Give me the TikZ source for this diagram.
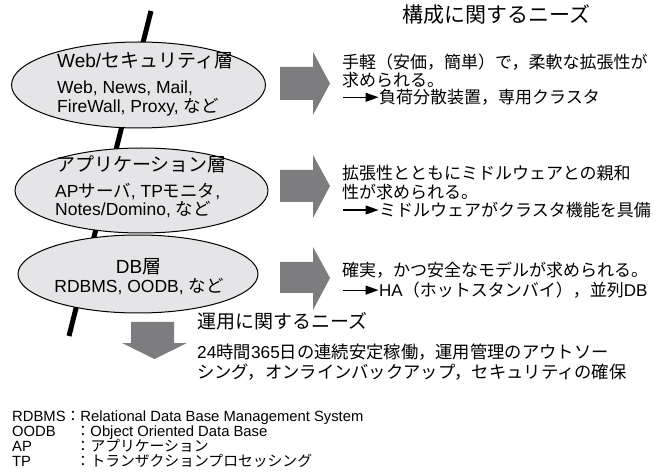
\documentclass[tikz,border=0pt]{standalone}
\usepackage{fontspec}
\setmainfont{Liberation Sans}
\newfontfamily\cjkfont{Noto Sans CJK JP}
\newfontfamily\latfont{Liberation Sans}
\usetikzlibrary{shapes.geometric,arrows.meta}
\XeTeXinterchartokenstate=1
\newXeTeXintercharclass\cjkclass
\newcount\cjkcc
\def\setcjkrange#1#2{\cjkcc=#1\relax
  \loop\XeTeXcharclass\cjkcc=\cjkclass\relax
  \ifnum\cjkcc<#2\relax\advance\cjkcc by 1\relax\repeat}
\setcjkrange{"3000}{"30FF}
\setcjkrange{"4E00}{"9FFF}
\setcjkrange{"FF00}{"FFEF}
\XeTeXinterchartoks 0 \cjkclass = {\cjkfont}
\XeTeXinterchartoks 4095 \cjkclass = {\cjkfont}
\XeTeXinterchartoks \cjkclass 0 = {\latfont}
\XeTeXinterchartoks \cjkclass 4095 = {\latfont}
\definecolor{ellfill}{RGB}{229,229,231}
\definecolor{arrgray}{RGB}{125,125,128}
\begin{document}
\begin{tikzpicture}[x=1pt,y=-1pt,
  ell/.style={ellipse, draw=black, line width=1pt, fill=ellfill, inner sep=0pt},
  spine/.style={line width=5pt, black},
  blockarrow/.style={fill=arrgray},
  etitle/.style={inner sep=0pt, anchor=base west, font=\fontsize{19}{21}\selectfont},
  ebody/.style={inner sep=0pt, anchor=base west, font=\fontsize{17.5}{19}\selectfont},
  rtext/.style={inner sep=0pt, anchor=base west, font=\fontsize{17}{19}\selectfont},
  heading/.style={inner sep=0pt, anchor=base west},
  note/.style={inner sep=0pt, anchor=base west, font=\fontsize{14.8}{15}\selectfont},
  conn/.style={line width=1.2pt, -{Triangle[length=13pt,width=9pt]}, shorten >=0.5pt}
]
\useasboundingbox (0,0) rectangle (665,476);

% spine
\coordinate (spinetop) at (151,11);
\coordinate (spinebot) at (69,336);
\draw[spine] (spinetop) -- (spinebot);

% layer ellipses
\node[ell, minimum width=254pt, minimum height=86pt] (e1) at (138.5,85) {};
\node[ell, minimum width=253pt, minimum height=85pt] (e2) at (141.5,190.5) {};
\node[ell, minimum width=240pt, minimum height=78pt] (e3) at (138,274) {};

\node[etitle] (t1) at (57,68) {Web/セキュリティ層};
\node[ebody] (b1a) at (57,94) {Web, News, Mail,};
\node[ebody] (b1b) at (57,113) {FireWall, Proxy, など};

\node[etitle] (t2) at (56,172) {アプリケーション層};
\node[ebody] (b2a) at (55,198) {APサーバ, TPモニタ,};
\node[ebody] (b2b) at (55,216) {Notes/Domino, など};

\node[etitle, anchor=base] (t3) at (138.5,273) {DB層};
\node[ebody, anchor=base] (b3a) at (139,293) {RDBMS, OODB, など};

% block arrows
\fill[blockarrow] (280,67) -- (313,67) -- (313,52) -- (330,83.5) -- (313,115) -- (313,100) -- (280,100) -- cycle;
\fill[blockarrow] (280,170) -- (313,170) -- (313,155) -- (330,186) -- (313,218) -- (313,202) -- (280,202) -- cycle;
\fill[blockarrow] (280,262) -- (313,262) -- (313,247) -- (330,278) -- (313,310) -- (313,293) -- (280,293) -- cycle;
\fill[blockarrow] (131,322) -- (174,322) -- (174,343) -- (187,343) -- (154.5,359) -- (122,343) -- (131,343) -- cycle;

% heading
\node[heading, font=\fontsize{21}{23}\selectfont] (h1) at (402,23) {構成に関するニーズ};

% block 1
\node[rtext] (r1a) at (342,68.5) {手軽（安価，簡単）で，柔軟な拡張性が};
\node[rtext] (r1b) at (342,86.5) {求められる。};
\node[rtext] (r1c) at (379,103.5) {負荷分散装置，専用クラスタ};
\path (r1c.west) ++(-36,0) coordinate (a1);
\draw[conn] (a1) -- (r1c.west);

% block 2
\node[rtext] (r2a) at (342,179.5) {拡張性とともにミドルウェアとの親和};
\node[rtext] (r2b) at (342,198.5) {性が求められる。};
\node[rtext] (r2c) at (379,216.5) {ミドルウェアがクラスタ機能を具備};
\path (r2c.west) ++(-36,0) coordinate (a2);
\draw[conn] (a2) -- (r2c.west);

% block 3
\node[rtext] (r3a) at (342,276.5) {確実，かつ安全なモデルが求められる。};
\node[rtext] (r3b) at (379,296.5) {HA（ホットスタンバイ），並列DB};
\path (r3b.west) ++(-36,0) coordinate (a3);
\draw[conn] (a3) -- (r3b.west);

% operation needs
\node[heading, font=\fontsize{19}{21}\selectfont] (h2) at (197,329) {運用に関するニーズ};
\node[rtext, font=\fontsize{17.3}{19}\selectfont] (o1) at (197,358.5) {24時間365日の連続安定稼働，運用管理のアウトソー};
\node[rtext, font=\fontsize{17.3}{19}\selectfont] (o2) at (197,378.5) {シング，オンラインバックアップ，セキュリティの確保};

% notes
\node[note] (n1) at (12,421.5) {RDBMS：Relational Data Base Management System};
\node[note] (n2) at (12,436.5) {\makebox[63.5pt][l]{OODB}：Object Oriented Data Base};
\node[note] (n3) at (12,451) {\makebox[63.5pt][l]{AP}：アプリケーション};
\node[note] (n4) at (12,466) {\makebox[63.5pt][l]{TP}：トランザクションプロセッシング};
\end{tikzpicture}
\end{document}
